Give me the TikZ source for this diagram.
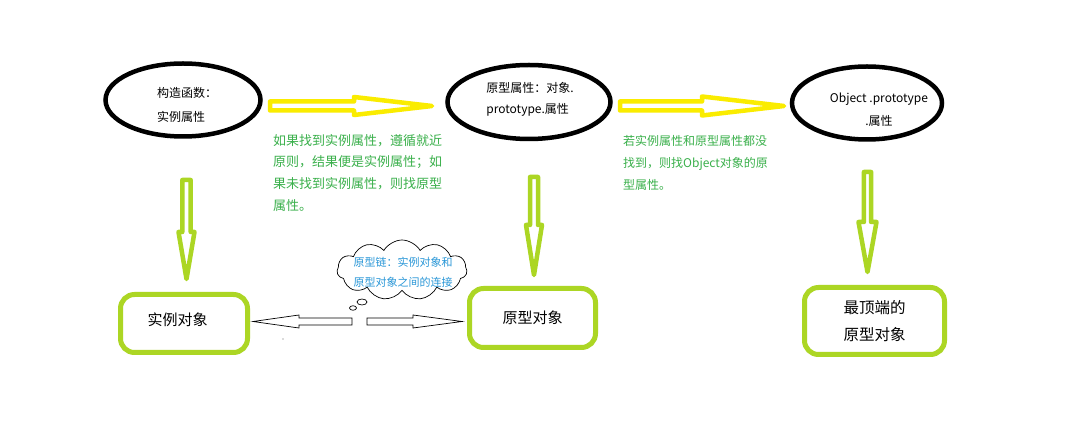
\documentclass[tikz,border=0pt]{standalone}
\usepackage{fontspec}
\setmainfont{Noto Sans CJK SC}
\usetikzlibrary{shapes.geometric,shapes.symbols}
\definecolor{yel}{RGB}{250,236,0}
\definecolor{lgreen}{RGB}{172,214,36}
\definecolor{tgreen}{RGB}{58,176,75}
\definecolor{tblue}{RGB}{40,150,215}
\newcommand{\myharrow}[7]{\draw[#1] (#2,#5-#6) -- (#3,#5-#6) -- (#3,#5-#7) -- (#4,#5) -- (#3,#5+#7) -- (#3,#5+#6) -- (#2,#5+#6) -- cycle;}
\newcommand{\myvarrow}[7]{\draw[#1] (#2-#6,#3) -- (#2-#6,#4) -- (#2-#7,#4) -- (#2,#5) -- (#2+#7,#4) -- (#2+#6,#4) -- (#2+#6,#3) -- cycle;}
\begin{document}
\begin{tikzpicture}[x=1pt,y=-1pt,
  ell/.style={ellipse,draw=black,line width=4.5pt,inner sep=0pt},
  gbox/.style={rectangle,rounded corners=14pt,draw=lgreen,line width=5pt,inner sep=0pt,align=center},
  etext/.style={align=left,inner sep=0pt,font=\fontsize{12}{23}\selectfont},
  gtext/.style={align=left,inner sep=0pt,text=tgreen},
  yarrow/.style={draw=yel,line width=4.5pt,fill=white,line join=round},
  garrow/.style={draw=lgreen,line width=4.5pt,fill=white,line join=round},
  thinarrow/.style={draw=black,line width=0.7pt,fill=white,line join=miter},
  cloudnode/.style={cloud,cloud puffs=11,cloud puff arc=120,aspect=2.2,draw=black,line width=0.7pt,inner sep=0pt},
  puff/.style={ellipse,draw=black,line width=0.7pt,inner sep=0pt}]
\useasboundingbox[fill=white] (0,0) rectangle (1085,443);

% ellipses
\node[ell,minimum width=155pt,minimum height=73pt] (e1) at (183,100) {};
\node[ell,minimum width=163pt,minimum height=74pt] (e2) at (529,102) {};
\node[ell,minimum width=150pt,minimum height=73pt] (e3) at (867,103) {};
\node[etext,font=\fontsize{12}{24}\selectfont] (e1t) at (187,105) {构造函数：\\实例属性};
\node[etext,font=\fontsize{12}{21}\selectfont] (e2t) at (530,99.5) {原型属性：对象.\\prototype.属性};
\node[etext,align=center] (e3t) at (879,109.5) {Object .prototype\\.属性};

% yellow arrows
\myharrow{yarrow}{270}{354}{432}{106}{4.5}{9}
\myharrow{yarrow}{620}{702}{784}{106}{4.5}{9.5}

% green explanatory texts
\node[gtext,anchor=north west,font=\fontsize{13}{21.7}\selectfont] (g1) at (273,134) {如果找到实例属性，遵循就近\\原则，结果便是实例属性；如\\果未找到实例属性，则找原型\\属性。};
\node[gtext,anchor=north west,font=\fontsize{12}{22}\selectfont] (g2) at (623,135) {若实例属性和原型属性都没\\找到，则找Object对象的原\\型属性。};

% green down arrows
\myvarrow{garrow}{186.5}{180}{232}{279}{4.2}{8}
\myvarrow{garrow}{534}{177}{225}{275}{4}{8}
\myvarrow{garrow}{867.5}{172}{222}{272}{3.6}{9}

% boxes
\node[gbox,minimum width=127pt,minimum height=58pt] (b1) at (184,323.5) {};
\node[font=\fontsize{15}{20}\selectfont,inner sep=0pt] (b1t) at (177.5,320) {实例对象};
\node[gbox,minimum width=126pt,minimum height=59pt,font=\fontsize{15}{20}\selectfont] (b2) at (532.5,318) {原型对象};
\node[gbox,minimum width=140pt,minimum height=67pt,font=\fontsize{15.5}{27}\selectfont] (b3) at (874.5,321) {最顶端的\\原型对象};

% thin arrows between boxes
\myharrow{thinarrow}{352}{299}{253}{321.5}{3.5}{6.5}
\myharrow{thinarrow}{367}{413}{462}{321.5}{3.5}{6.5}
\fill[black!60] (283,339) circle (0.7pt);

% cloud callout
\node[cloudnode,minimum width=130pt,minimum height=60pt] (cl) at (402,270) {};
\node[puff,minimum width=10pt,minimum height=6pt] (p1) at (362,302) {};
\node[puff,minimum width=7pt,minimum height=4.5pt] (p2) at (353,308) {};
\node[align=center,inner sep=0pt,text=tblue,font=\fontsize{11}{20}\selectfont] (clt) at (403,272) {原型链：实例对象和\\原型对象之间的连接};
\end{tikzpicture}
\end{document}
